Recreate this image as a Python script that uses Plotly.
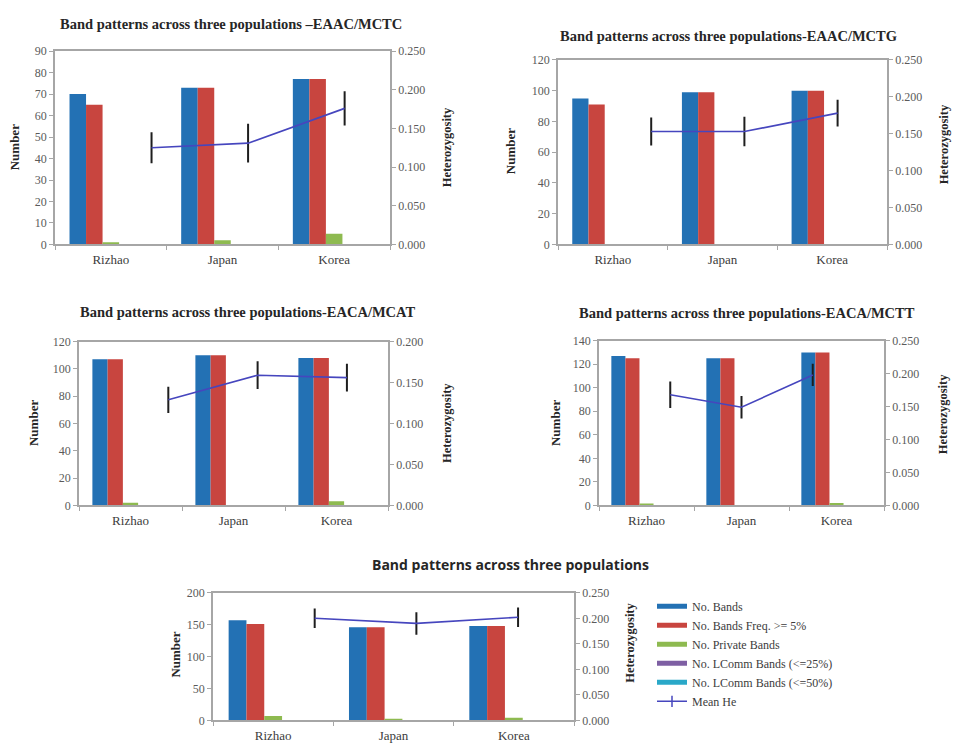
import plotly.graph_objects as go

# ---- data ---------------------------------------------------------------
populations = ["Rizhao", "Japan", "Korea"]

series_names = [
    "No. Bands",
    "No. Bands Freq. >= 5%",
    "No. Private Bands",
    "No. LComm Bands (<=25%)",
    "No. LComm Bands (<=50%)",
]
he_name = "Mean He"

# EAAC/MCTC
mctc_bands = [70, 73, 77]
mctc_freq5 = [65, 73, 77]
mctc_private = [1, 2, 5]
mctc_lcomm25 = [0, 0, 0]
mctc_lcomm50 = [0, 0, 0]
mctc_he = [0.125, 0.131, 0.176]
mctc_he_err = [0.020, 0.025, 0.022]

# EAAC/MCTG
mctg_bands = [95, 99, 100]
mctg_freq5 = [91, 99, 100]
mctg_private = [0, 0, 0]
mctg_lcomm25 = [0, 0, 0]
mctg_lcomm50 = [0, 0, 0]
mctg_he = [0.153, 0.153, 0.178]
mctg_he_err = [0.019, 0.020, 0.018]

# EACA/MCAT
mcat_bands = [107, 110, 108]
mcat_freq5 = [107, 110, 108]
mcat_private = [2, 0, 3]
mcat_lcomm25 = [0, 0, 0]
mcat_lcomm50 = [0, 0, 0]
mcat_he = [0.129, 0.159, 0.156]
mcat_he_err = [0.016, 0.017, 0.017]

# EACA/MCTT
mctt_bands = [127, 125, 130]
mctt_freq5 = [125, 125, 130]
mctt_private = [1, 0, 2]
mctt_lcomm25 = [0, 0, 0]
mctt_lcomm50 = [0, 0, 0]
mctt_he = [0.168, 0.149, 0.198]
mctt_he_err = [0.020, 0.017, 0.017]

# all primer combinations pooled
all_bands = [157, 146, 148]
all_freq5 = [151, 146, 148]
all_private = [7, 1, 4]
all_lcomm25 = [0, 0, 0]
all_lcomm50 = [0, 0, 0]
all_he = [0.200, 0.190, 0.202]
all_he_err = [0.019, 0.022, 0.019]

# position of each population on the He line's own horizontal scale
he_positions = [1, 2, 3]

# ---- styling ------------------------------------------------------------
W, H = 954, 746
bar_colors = ["#2371B4", "#C8453F", "#8EBA50", "#7E5FA3", "#2AA8C8"]
he_color = "#4646BE"
err_color = "#1E1E1E"
axis_color = "#A6A6A6"
tick_color = "#5A5A5A"
serif = "Liberation Serif, Times New Roman, serif"
sans = "Open Sans, sans-serif"


def fx(px):
    return px / W


def fy(px):
    return 1 - px / H


panels = [
    dict(title="Band patterns across three populations \u2013EAAC/MCTC",
         title_xy=(231, 17), title_font=serif, title_size=14.5,
         box=(55, 390, 45, 242), ymax=90, ydtick=10, he_max=0.25, he_span=3.47,
         num_xy=(14, 143), het_xy=(447, 143),
         series=[mctc_bands, mctc_freq5, mctc_private, mctc_lcomm25, mctc_lcomm50],
         he=mctc_he, he_err=mctc_he_err),
    dict(title="Band patterns across three populations-EAAC/MCTG",
         title_xy=(728, 30), title_font=serif, title_size=14.5,
         box=(558, 887, 54, 242), ymax=120, ydtick=20, he_max=0.25, he_span=3.53,
         num_xy=(510, 147), het_xy=(944, 140),
         series=[mctg_bands, mctg_freq5, mctg_private, mctg_lcomm25, mctg_lcomm50],
         he=mctg_he, he_err=mctg_he_err),
    dict(title="Band patterns across three populations-EACA/MCAT",
         title_xy=(248, 311), title_font=serif, title_size=14.5,
         box=(79, 388, 341, 508), ymax=120, ydtick=20, he_max=0.20, he_span=3.46,
         num_xy=(33, 424), het_xy=(447, 424),
         series=[mcat_bands, mcat_freq5, mcat_private, mcat_lcomm25, mcat_lcomm50],
         he=mcat_he, he_err=mcat_he_err),
    dict(title="Band patterns across three populations-EACA/MCTT",
         title_xy=(747, 312), title_font=serif, title_size=14.5,
         box=(599, 884, 340, 508), ymax=140, ydtick=20, he_max=0.25, he_span=4.0,
         num_xy=(555, 424), het_xy=(943, 415),
         series=[mctt_bands, mctt_freq5, mctt_private, mctt_lcomm25, mctt_lcomm50],
         he=mctt_he, he_err=mctt_he_err),
    dict(title="Band patterns across three populations",
         title_xy=(511, 568), title_font=sans, title_size=14,
         box=(213, 574, 597, 727), ymax=200, ydtick=50, he_max=0.25, he_span=3.55,
         num_xy=(176, 660), het_xy=(630, 648),
         series=[all_bands, all_freq5, all_private, all_lcomm25, all_lcomm50],
         he=all_he, he_err=all_he_err),
]

fig = go.Figure()
layout = {}
annotations = []

for i, p in enumerate(panels):
    k = 2 * i + 1          # bar axes
    k2 = k + 1             # He axes
    x0, x1, y0, y1 = p["box"]
    sx = "" if k == 1 else str(k)

    for name, vals, col in zip(series_names, p["series"], bar_colors):
        fig.add_trace(go.Bar(
            x=populations, y=vals, name=name, marker=dict(color=col, line=dict(width=0)),
            xaxis=f"x{sx}", yaxis=f"y{sx}", showlegend=False,
        ))

    fig.add_trace(go.Scatter(
        x=he_positions, y=p["he"], mode="lines", name=he_name,
        line=dict(color=he_color, width=1.6),
        error_y=dict(type="data", array=p["he_err"], color=err_color,
                     thickness=2, width=0),
        xaxis=f"x{k2}", yaxis=f"y{k2}", showlegend=False,
    ))

    tickfont = dict(family=serif, size=12, color=tick_color)
    layout[f"xaxis{sx}"] = dict(
        domain=[fx(x0), fx(x1)], anchor=f"y{sx}", type="category",
        showline=True, linecolor=axis_color, linewidth=1.5, mirror=True,
        ticks="outside", tickson="boundaries", ticklen=4, tickcolor=axis_color,
        tickfont=dict(family=serif, size=13, color="#3C3C3C"),
        ticklabelstandoff=2,
        showgrid=False, fixedrange=True,
    )
    layout[f"yaxis{sx}"] = dict(
        domain=[fy(y1), fy(y0)], anchor=f"x{sx}", range=[0, p["ymax"]],
        dtick=p["ydtick"], showline=True, linecolor=axis_color, linewidth=1.5,
        ticks="outside", ticklen=4, tickcolor=axis_color, tickfont=tickfont,
        showgrid=False, zeroline=False,
    )
    layout[f"xaxis{k2}"] = dict(
        overlaying=f"x{sx}", anchor=f"y{k2}", range=[0, p["he_span"]],
        visible=False,
    )
    layout[f"yaxis{k2}"] = dict(
        overlaying=f"y{sx}", anchor=f"x{sx}", side="right",
        range=[0, p["he_max"]], dtick=0.05, tickformat=".3f",
        showline=True, linecolor=axis_color, linewidth=1.5,
        ticks="outside", ticklen=4, tickcolor=axis_color, tickfont=tickfont,
        showgrid=False, zeroline=False,
    )

    tx, ty = p["title_xy"]
    annotations.append(dict(
        text=f"<b>{p['title']}</b>", x=fx(tx), y=fy(ty), xref="paper", yref="paper",
        showarrow=False, xanchor="center", yanchor="middle",
        font=dict(family=p["title_font"], size=p["title_size"], color="#262626"),
    ))
    nx, ny = p["num_xy"]
    annotations.append(dict(
        text="<b>Number</b>", x=fx(nx), y=fy(ny), xref="paper", yref="paper",
        showarrow=False, textangle=-90, xanchor="center", yanchor="middle",
        font=dict(family=serif, size=13, color="#262626"),
    ))
    hx, hy = p["het_xy"]
    annotations.append(dict(
        text="<b>Heterozygosity</b>", x=fx(hx), y=fy(hy), xref="paper", yref="paper",
        showarrow=False, textangle=-90, xanchor="center", yanchor="middle",
        font=dict(family=serif, size=12.5, color="#262626"),
    ))

# legend entries drawn as line samples
for name, col in zip(series_names, bar_colors):
    fig.add_trace(go.Scatter(
        x=[None], y=[None], mode="lines", name=name,
        line=dict(color=col, width=5), xaxis="x9", yaxis="y9",
    ))
fig.add_trace(go.Scatter(
    x=[None], y=[None], mode="lines+markers", name=he_name,
    line=dict(color=he_color, width=1.6),
    marker=dict(symbol="line-ns-open", size=8, color=he_color,
                line=dict(color=he_color, width=1.5)),
    xaxis="x9", yaxis="y9",
))

fig.update_layout(
    **layout,
    annotations=annotations,
    barmode="group", bargap=0.26, bargroupgap=0,
    width=W, height=H, margin=dict(l=0, r=0, t=0, b=0),
    paper_bgcolor="white", plot_bgcolor="white",
    showlegend=True,
    legend=dict(
        x=fx(652), y=fy(596), xanchor="left", yanchor="top",
        font=dict(family=serif, size=12, color="#3C3C3C"),
        itemwidth=30, tracegroupgap=0, bgcolor="rgba(0,0,0,0)",
    ),
)

fig.write_html("out.html")
